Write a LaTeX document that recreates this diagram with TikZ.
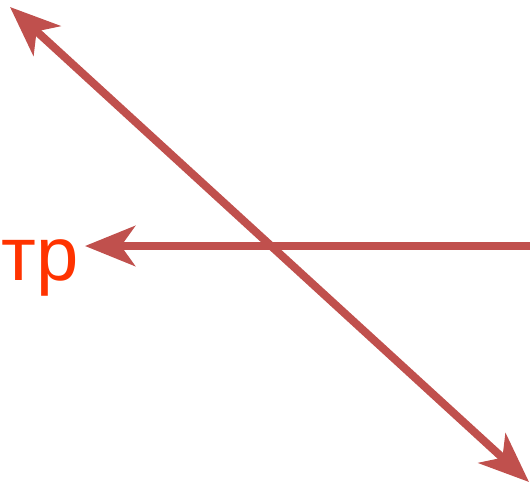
\documentclass[tikz,border=0pt]{standalone}
\usepackage{fontspec}
\setmainfont{Liberation Sans}
\usetikzlibrary{arrows.meta,positioning}
\definecolor{arrowred}{RGB}{192,80,77}
\definecolor{labelred}{RGB}{255,51,0}
\tikzset{
  redarrow/.style={arrowred, line width=8pt,
    -{Stealth[length=50pt,width=40pt,inset=14pt]}},
  twoway/.style={arrowred, line width=8pt,
    {Stealth[length=50pt,width=40pt,inset=14pt]}-{Stealth[length=50pt,width=40pt,inset=14pt]}}
}
\begin{document}
\begin{tikzpicture}[x=1pt,y=-1pt]
  \useasboundingbox (0,0) rectangle (530,490);
  % end points
  \coordinate (dtl) at (10,7);
  \coordinate (dbr) at (529,482);
  \coordinate (hr) at (531,246);
  \coordinate (hl) at (85,246);
  % label
  \node[labelred, font=\fontsize{76}{80}\selectfont, anchor=base west, inner sep=0pt] (tp) at (1,280) {тр};
  % diagonal
  \draw[twoway] (dtl) -- (dbr);
  % horizontal
  \draw[redarrow] (hr) -- (hl);
\end{tikzpicture}
\end{document}
